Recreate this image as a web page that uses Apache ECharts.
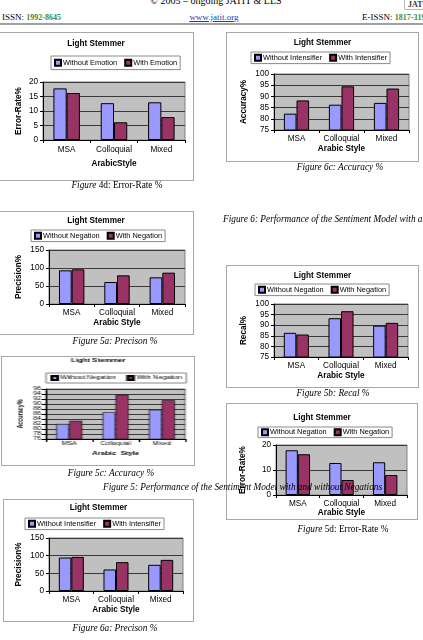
<!DOCTYPE html>
<html>
<head>
<meta charset="utf-8">
<title>Light Stemmer</title>
<script src="https://cdn.jsdelivr.net/npm/echarts@6/dist/echarts.min.js"></script>
<style>
    * { margin: 0; padding: 0; }
    html, body { background: #fff; }
    body { position: relative; width: 423px; height: 640px; overflow: hidden; font-family: "Liberation Serif", serif; color: #000; }
    .box { position: absolute; border: 1px solid #a8a8a8; box-sizing: border-box; background: #fff; }
    .box > div { position: absolute; left: -1px; top: -1px; }
    .cap { position: absolute; font-size: 9.3px; line-height: 12px; white-space: nowrap; z-index: 5; color: #000; will-change: transform; }
    .mid { transform: translateX(-50%); }
    .hdr { position: absolute; font-size: 9px; line-height: 11px; white-space: nowrap; color: #000; }
    .num { color: #3b8a3b; font-weight: bold; font-size: 8px; }
    .link { color: #1a3fb0; text-decoration: underline; }
    .rule { position: absolute; left: 0; width: 423px; top: 23px; height: 2px; background: #a0a0a0; }
    .logo { position: absolute; left: 404px; top: -3px; width: 24px; height: 11px; border: 1px solid #bbb; font: bold 8px "Liberation Serif", serif; line-height: 14px; padding-left: 3px; color: #333; }
</style>
</head>
<body>
<div class="hdr mid" style="left:216px; top:-5px; font-size:10px;">© 2005 – ongoing JATIT &amp; LLS</div>
<div class="logo">JAT</div>
<div class="hdr" style="left:2px; top:12px;">ISSN: <span class="num">1992-8645</span></div>
<div class="hdr mid" style="left:214px; top:12px;"><span class="link">www.jatit.org</span></div>
<div class="hdr" style="left:362px; top:12px;">E-ISSN: <span class="num">1817-3195</span></div>
<div class="rule"></div>

<div id="c4d" class="box"></div>
<div id="c6c" class="box"></div>
<div id="c5a" class="box"></div>
<div id="c5b" class="box"></div>
<div id="c5c" class="box"></div>
<div id="c5d" class="box"></div>
<div id="c6a" class="box"></div>

<div class="cap mid" style="left:117px; top:179px;"><i>Figure</i> 4d: Error-Rate %</div>
<div class="cap mid" style="left:340px; top:161px;"><i>Figure 6c: Accuracy %</i></div>
<div class="cap" style="left:223px; top:213px;"><i>Figure 6: Performance of the Sentiment Model with and without Intensifiers</i></div>
<div class="cap mid" style="left:115px; top:335px;"><i>Figure 5a: Precison %</i></div>
<div class="cap mid" style="left:333px; top:387px;"><i>Figure 5b: Recal %</i></div>
<div class="cap mid" style="left:111px; top:467px;"><i>Figure 5c: Accuracy %</i></div>
<div class="cap" style="left:103px; top:481px;"><i>Figure 5: Performance of the Sentiment Model with and without Negations</i></div>
<div class="cap mid" style="left:343px; top:523px;"><i>Figure</i> 5d: Error-Rate %</div>
<div class="cap mid" style="left:115px; top:622px;"><i>Figure 6a: Precison %</i></div>

<script>
    var categories = ['MSA', 'Colloquial', 'Mixed'];

    // Figure 4d: error rate, emotion
    var errWithoutEmotion = [17.8, 12.7, 13.0];
    var errWithEmotion = [16.2, 6.1, 7.9];
    // Figure 6c: accuracy, intensifier
    var accWithoutIntens = [82.3, 86.3, 87.1];
    var accWithIntens = [88.2, 94.5, 93.5];
    // Figure 5a: precision, negation
    var precWithoutNeg = [93.5, 61.1, 74.1];
    var precWithNeg = [96.3, 79.6, 87.0];
    // Figure 5b: recall, negation
    var recWithoutNeg = [86.4, 93.3, 89.8];
    var recWithNeg = [85.6, 96.6, 91.1];
    // Figure 5c: accuracy, negation
    var accWithoutNeg = [82.0, 86.7, 87.6];
    var accWithNeg = [83.3, 93.7, 91.5];
    // Figure 5d: error rate, negation
    var errWithoutNeg = [17.9, 12.8, 13.1];
    var errWithNeg = [16.3, 6.0, 8.0];
    // Figure 6a: precision, intensifier
    var precWithoutIntens = [94.7, 60.9, 74.1];
    var precWithIntens = [96.6, 81.6, 88.1];

    // y axis: [min, max, interval]
    var ticksError = [0, 20, 5];
    var ticksError10 = [0, 20, 10];
    var ticksAcc = [75, 100, 5];
    var ticksAcc2 = [76, 96, 2];
    var ticksPrec = [0, 150, 50];

    var negNames = ['Without Negation', 'With Negation'];
    var intNames = ['Without Intensifier', 'With Intensifier'];
    var emoNames = ['Without Emotion', 'With Emotion'];

    var barColors = ['#9999ff', '#993366'];
    var normalFont = { title: 8.2, legend: 7.4, label: 8.2, name: 8.2, icon: 6 };

    // all positions are page pixels: box [x, y, w, h], plot [left, top, right, bottom]
    var charts = [
        { id: 'c4d', box: [-2, 32, 196, 149], titleY: 45, legend: [51, 56, 13], plot: [43, 82, 185, 140],
          yNameX: 19, catY: 150, xNameY: 164, ticks: ticksError, yName: 'Error-Rate%', xName: 'ArabicStyle',
          names: emoNames, data: [errWithoutEmotion, errWithEmotion] },
        { id: 'c6c', box: [226, 32, 193, 130], titleY: 44, legend: [251, 52, 11], plot: [274, 74, 409, 130],
          yNameX: 244, catY: 139, xNameY: 149, ticks: ticksAcc, yName: 'Accuracy%', xName: 'Arabic Style',
          names: intNames, data: [accWithoutIntens, accWithIntens] },
        { id: 'c5a', box: [-2, 211, 196, 124], titleY: 222, legend: [31, 230, 11], plot: [49, 250, 185, 304],
          yNameX: 19, catY: 313, xNameY: 323, ticks: ticksPrec, yName: 'Precision%', xName: 'Arabic Style',
          names: negNames, data: [precWithoutNeg, precWithNeg] },
        { id: 'c5b', box: [226, 265, 193, 123], titleY: 277, legend: [255, 284, 11], plot: [274, 304, 408, 357],
          yNameX: 244, catY: 366, xNameY: 376, ticks: ticksAcc, yName: 'Recal%', xName: 'Arabic Style',
          names: negNames, data: [recWithoutNeg, recWithNeg] },
        { id: 'c5c', box: [1, 356, 194, 110], titleY: 362, legend: [46, 373, 9], plot: [46, 389, 185, 439],
          yNameX: 20, catY: 444, xNameY: 454, ticks: ticksAcc2, yName: 'Accuracy%', xName: 'Arabic  Style',
          names: negNames, data: [accWithoutNeg, accWithNeg],
          stretch: 1.45, font: { title: 5.4, legend: 5, label: 4.8, name: 5.4, icon: 4 }, barBorder: 0.5 },
        { id: 'c5d', box: [226, 403, 192, 117], titleY: 419, legend: [258, 427, 10], plot: [276, 445, 407, 495],
          yNameX: 243, catY: 504, xNameY: 513, ticks: ticksError10, yName: 'Error-Rate%', xName: 'Arabic Style',
          names: negNames, data: [errWithoutNeg, errWithNeg] },
        { id: 'c6a', box: [3, 499, 191, 123], titleY: 509, legend: [25, 518, 11], plot: [49, 538, 183, 591],
          yNameX: 19, catY: 600, xNameY: 610, ticks: ticksPrec, yName: 'Precision%', xName: 'Arabic Style',
          names: intNames, data: [precWithoutIntens, precWithIntens] }
    ];

    function drawChart(c) {
        var box = document.getElementById(c.id);
        var bx = c.box[0], by = c.box[1], bw = c.box[2], bh = c.box[3];
        box.style.left = bx + 'px';
        box.style.top = by + 'px';
        box.style.width = bw + 'px';
        box.style.height = bh + 'px';

        var sx = c.stretch || 1;
        var f = c.font || normalFont;
        var inner = document.createElement('div');
        inner.style.width = (bw / sx) + 'px';
        inner.style.height = bh + 'px';
        if (sx !== 1) {
            inner.style.transform = 'scaleX(' + sx + ')';
            inner.style.transformOrigin = '0 0';
        }
        box.appendChild(inner);

        var X = function (x) { return (x - bx) / sx; };
        var Y = function (y) { return y - by; };
        var p = c.plot;
        var legPad = (c.legend[2] - f.legend) / 2;
        var fam = '"Liberation Sans", Arial, sans-serif';

        var chart = echarts.init(inner);
        chart.setOption({
            animation: false,
            textStyle: { fontFamily: fam, color: '#000' },
            title: {
                text: 'Light Stemmer',
                left: 'center',
                top: Y(c.titleY) - f.title / 2 - 1,
                padding: 0,
                textStyle: { fontSize: f.title, fontWeight: 'bold', fontFamily: fam, color: '#000' }
            },
            legend: {
                data: c.names,
                left: X(c.legend[0]),
                top: Y(c.legend[1]),
                padding: [legPad, 3, legPad, 3],
                itemGap: 7,
                itemWidth: f.icon,
                itemHeight: f.icon,
                icon: 'rect',
                borderColor: '#8a8a8a',
                borderWidth: 1,
                textStyle: { fontSize: f.legend, fontFamily: fam, color: '#000', padding: [0, 0, 0, -3] }
            },
            grid: {
                left: X(p[0]),
                top: Y(p[1]),
                width: (p[2] - p[0]) / sx,
                height: p[3] - p[1],
                show: true,
                backgroundColor: '#c0c0c0',
                borderColor: '#808080',
                borderWidth: 1,
                containLabel: false,
                outerBoundsMode: 'none'
            },
            xAxis: {
                type: 'category',
                data: categories,
                name: c.xName,
                nameLocation: 'middle',
                nameGap: c.xNameY - f.name / 2 - p[3],
                nameMoveOverlap: false,
                nameTextStyle: { fontSize: f.name, fontWeight: 'bold', fontFamily: fam, color: '#000' },
                axisLine: { lineStyle: { color: '#000', width: 1 } },
                axisTick: { show: true, length: 3, lineStyle: { color: '#000' } },
                axisLabel: { interval: 0, hideOverlap: false, fontSize: f.label, color: '#000', margin: c.catY - f.label / 2 - p[3] }
            },
            yAxis: {
                type: 'value',
                min: c.ticks[0],
                max: c.ticks[1],
                interval: c.ticks[2],
                name: c.yName,
                nameLocation: 'middle',
                nameRotate: 90,
                nameGap: (p[0] - c.yNameX) / sx - f.name / 2,
                nameMoveOverlap: false,
                nameTextStyle: { fontSize: f.name, fontWeight: 'bold', fontFamily: fam, color: '#000' },
                axisLine: { show: true, lineStyle: { color: '#000', width: 1 } },
                axisTick: { show: true, length: 3, lineStyle: { color: '#000' } },
                axisLabel: { fontSize: f.label, color: '#000', margin: 5 / sx },
                splitLine: { show: true, lineStyle: { color: '#3a3a3a', width: 1 } }
            },
            series: c.names.map(function (n, i) {
                return {
                    name: n,
                    type: 'bar',
                    data: c.data[i],
                    barGap: '0%',
                    barCategoryGap: '44%',
                    itemStyle: { color: barColors[i], borderColor: '#000', borderWidth: c.barBorder || 1 }
                };
            })
        });
    }

    charts.forEach(drawChart);
</script>
</body>
</html>
